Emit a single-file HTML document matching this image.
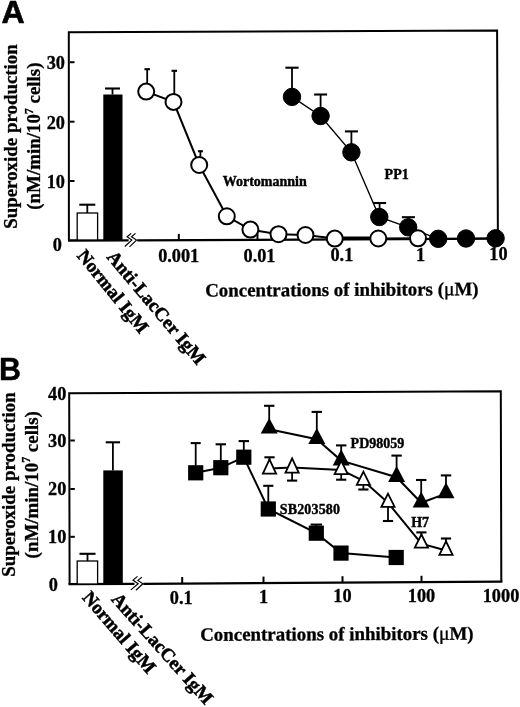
<!DOCTYPE html>
<html><head><meta charset="utf-8"><title>Figure</title>
<style>
html,body{margin:0;padding:0;background:#fff;overflow:hidden}
svg{display:block}
text{font-family:"Liberation Serif",serif;font-weight:bold;fill:#000;stroke:#000;stroke-width:0.3px}
.sans{font-family:"Liberation Sans",sans-serif;font-weight:bold;stroke-width:0.4px}
.L{font-size:18.9px}
.R{stroke-width:0.5px}
.t{font-size:18.3px}
.s{font-size:14px;stroke-width:0.4px}
.ln{stroke:#000;stroke-width:2;fill:none}
.eb{stroke:#000;stroke-width:1.8;fill:none}
.cap{stroke:#000;stroke-width:2.1;fill:none}
.ax{stroke:#000;stroke-width:2;fill:none}
.oc{fill:#fff;stroke:#000;stroke-width:2}
.fc{fill:#000;stroke:#000;stroke-width:1}
</style></head><body>
<svg width="520" height="707" viewBox="0 0 520 707" style="will-change:transform">
<rect x="0" y="0" width="520" height="707" fill="#fff"/>

<text class="sans" transform="translate(1.5,23) scale(1.05,1)" font-size="30.5" style="stroke-width:0.6px">A</text>
<text class="sans" x="-1.1" y="380.1" font-size="30.5">B</text>
<polyline class="ax" points="68.9,240.2 68.8,32.3 497.1,30.5 497.9,238.6"/>
<path class="ax" style="stroke-width:2.3" d="M68 240.5 L128.6 240.4 M137.2 240.4 L499 238.7"/>
<path d="M131.2 233.4 L127.1 236.8 L131.8 240.1 L124.8 246.5 M135.5 233.4 L131.5 236.8 L136.5 240.1 L129.5 246.9" stroke="#000" stroke-width="1.2" fill="none"/>
<line class="ax" x1="70" y1="62.2" x2="74.5" y2="62.2"/>
<line class="ax" x1="70" y1="121.7" x2="74.5" y2="121.7"/>
<line class="ax" x1="70" y1="181" x2="74.5" y2="181"/>
<line class="ax" x1="178.8" y1="239.9" x2="178.8" y2="233.9"/>
<line class="ax" x1="257.5" y1="239.6" x2="257.5" y2="233.6"/>
<line class="ax" x1="338" y1="239.3" x2="338" y2="233.3"/>
<line class="ax" x1="417.5" y1="239" x2="417.5" y2="233"/>
<text class="t" x="65" y="69" text-anchor="end" >30</text>
<text class="t" x="65" y="128.5" text-anchor="end" >20</text>
<text class="t" x="65" y="188.4" text-anchor="end" >10</text>
<text class="t" x="61.8" y="251" text-anchor="end" >0</text>
<text class="t" x="178.7" y="261.6" text-anchor="middle" >0.001</text>
<text class="t" x="259.5" y="261.6" text-anchor="middle" >0.01</text>
<text class="t" x="341.9" y="260.9" text-anchor="middle" >0.1</text>
<text class="t" x="420.6" y="260.5" text-anchor="middle" >1</text>
<text class="t" x="498.5" y="259.8" text-anchor="middle" >10</text>
<rect x="77.2" y="213" width="20.4" height="27" fill="#fff" stroke="#000" stroke-width="1.3"/>
<line class="eb" x1="87.3" y1="213" x2="87.3" y2="204.7"/>
<line class="cap" x1="79.3" y1="204.7" x2="95.3" y2="204.7"/>
<rect x="103.3" y="94.5" width="19.2" height="146.5" fill="#000"/>
<line class="eb" x1="112.5" y1="94.5" x2="112.5" y2="88.5"/>
<line class="cap" x1="105" y1="88.5" x2="120" y2="88.5"/>
<line class="eb" x1="147.2" y1="91.4" x2="147.2" y2="69.2"/>
<line class="cap" x1="144.45" y1="69.2" x2="149.95" y2="69.2"/>
<line class="eb" x1="174.3" y1="101.5" x2="174.3" y2="70.8"/>
<line class="cap" x1="171.55" y1="70.8" x2="177.05" y2="70.8"/>
<line class="eb" x1="200.4" y1="164" x2="200.4" y2="151.2"/>
<line class="cap" x1="197.9" y1="151.2" x2="202.9" y2="151.2"/>
<line class="eb" x1="292" y1="96.9" x2="292" y2="67.7"/>
<line class="cap" x1="285.4" y1="67.7" x2="298.6" y2="67.7"/>
<line class="eb" x1="320.6" y1="116" x2="320.6" y2="94.5"/>
<line class="cap" x1="314.1" y1="94.5" x2="327.1" y2="94.5"/>
<line class="eb" x1="351.4" y1="152.3" x2="351.4" y2="131.4"/>
<line class="cap" x1="344.9" y1="131.4" x2="357.9" y2="131.4"/>
<line class="eb" x1="379.6" y1="216" x2="379.6" y2="203"/>
<line class="cap" x1="373.1" y1="203" x2="386.1" y2="203"/>
<line class="eb" x1="408.4" y1="226.2" x2="408.4" y2="217.2"/>
<line class="cap" x1="401.9" y1="217.2" x2="414.9" y2="217.2"/>
<polyline style="stroke:#000;stroke-width:1.4;fill:none" points="292,96.9 320.6,116 351.4,152.3 379.3,217 408.2,227.3 438.2,238.8 466,238.5 495.6,238.3"/>
<polyline class="ln" points="146.2,91.6 173.5,101.9 199.2,165 226.8,216.3 250.4,229.6 278.5,234.2 305.5,235 334.8,238.6 378.3,238.5 418,238.3"/>
<line class="ln" x1="335" y1="237.5" x2="378" y2="237.4"/>
<circle class="fc" cx="292" cy="96.9" r="8.7"/>
<circle class="fc" cx="320.6" cy="116" r="8.7"/>
<circle class="fc" cx="351.4" cy="152.3" r="8.7"/>
<circle class="fc" cx="379.3" cy="217" r="8.7"/>
<circle class="fc" cx="408.2" cy="227.3" r="8.7"/>
<circle class="fc" cx="438.2" cy="238.8" r="8.7"/>
<circle class="fc" cx="466" cy="238.5" r="8.7"/>
<circle class="fc" cx="495.6" cy="238.3" r="8.7"/>
<circle class="oc" cx="146.2" cy="91.6" r="8"/>
<circle class="oc" cx="173.5" cy="101.9" r="8"/>
<circle class="oc" cx="199.2" cy="165" r="8"/>
<circle class="oc" cx="226.8" cy="216.3" r="8"/>
<circle class="oc" cx="250.4" cy="229.6" r="8"/>
<circle class="oc" cx="278.5" cy="234.2" r="8"/>
<circle class="oc" cx="305.5" cy="235" r="8"/>
<circle class="oc" cx="334.8" cy="238.6" r="8"/>
<circle class="oc" cx="378.3" cy="238.5" r="8"/>
<circle class="oc" cx="418" cy="238.3" r="8"/>
<text class="s" x="222.7" y="186.2" text-anchor="start" >Wortomannin</text>
<text class="s" x="384.6" y="178.5" text-anchor="start" >PP1</text>
<text class="L" x="205.2" y="296.6" text-anchor="start" transform="rotate(-0.3 205.2 296.6)">Concentrations of inhibitors (<tspan font-weight="normal" stroke-width="0.35" font-size="19.6">&#956;</tspan>M)</text>
<text class="L" transform="translate(17,136.5) rotate(-90)" text-anchor="middle">Superoxide production</text>
<text class="L" transform="translate(39.8,136.1) rotate(-90)" text-anchor="middle">(nM/min/10<tspan font-size="12" dy="-7.2">7</tspan><tspan dy="7.2"> cells)</tspan></text>
<text class="L R" transform="translate(76.3,255.9) rotate(51)">Normal IgM</text>
<text class="L R" transform="translate(106,257.3) rotate(50)">Anti-LacCer IgM</text>
<polyline class="ax" points="69.6,584.2 69.2,393.3 500.8,391.3 501.3,581.8"/>
<path class="ax" style="stroke-width:2.3" d="M68.5 584.1 L134.5 583.9 M143.3 583.8 L502.4 581.7"/>
<path d="M137.5 576.4 L133 580.1 L138.2 583.8 L130.8 589.9 M141.9 577.1 L137.9 580.4 L142.9 583.8 L135.9 590.2" stroke="#000" stroke-width="1.2" fill="none"/>
<line class="ax" x1="70.3" y1="440.5" x2="74.8" y2="440.5"/>
<line class="ax" x1="70.3" y1="489" x2="74.8" y2="489"/>
<line class="ax" x1="70.3" y1="536.8" x2="74.8" y2="536.8"/>
<line class="ax" x1="182.2" y1="583.5" x2="182.2" y2="577"/>
<line class="ax" x1="263.5" y1="583.1" x2="263.5" y2="576.6"/>
<line class="ax" x1="342.5" y1="582.7" x2="342.5" y2="576.2"/>
<line class="ax" x1="421.5" y1="582.3" x2="421.5" y2="575.8"/>
<text class="t" x="66.4" y="400" text-anchor="end" >40</text>
<text class="t" x="66.4" y="447.3" text-anchor="end" >30</text>
<text class="t" x="66.4" y="495.2" text-anchor="end" >20</text>
<text class="t" x="66.4" y="543.3" text-anchor="end" >10</text>
<text class="t" x="57.9" y="590.8" text-anchor="end" >0</text>
<text class="t" x="181.2" y="603.5" text-anchor="middle" >0.1</text>
<text class="t" x="263.5" y="603" text-anchor="middle" >1</text>
<text class="t" x="342.5" y="602.2" text-anchor="middle" >10</text>
<text class="t" x="421.5" y="601.8" text-anchor="middle" >100</text>
<text class="t" x="501" y="601.5" text-anchor="middle" >1000</text>
<rect x="77.2" y="561" width="20.4" height="23" fill="#fff" stroke="#000" stroke-width="1.3"/>
<line class="eb" x1="87.5" y1="561" x2="87.5" y2="553.8"/>
<line class="cap" x1="79.5" y1="553.8" x2="95.5" y2="553.8"/>
<rect x="103.3" y="470.4" width="19.5" height="114.6" fill="#000"/>
<line class="eb" x1="112.9" y1="470.6" x2="112.9" y2="442.3"/>
<line class="cap" x1="105.75" y1="442.3" x2="120.05" y2="442.3"/>
<line class="eb" x1="195.7" y1="472.8" x2="195.7" y2="443.1"/>
<line class="cap" x1="190.7" y1="443.1" x2="200.7" y2="443.1"/>
<line class="eb" x1="220.8" y1="467.7" x2="220.8" y2="444.3"/>
<line class="cap" x1="215.6" y1="444.3" x2="226" y2="444.3"/>
<line class="eb" x1="243.8" y1="457.2" x2="243.8" y2="441.1"/>
<line class="cap" x1="238.6" y1="441.1" x2="249" y2="441.1"/>
<line class="eb" x1="268.3" y1="509" x2="268.3" y2="485.8"/>
<line class="cap" x1="263.2" y1="485.8" x2="273.4" y2="485.8"/>
<line class="eb" x1="316.3" y1="533.2" x2="316.3" y2="524.6"/>
<line class="cap" x1="310.6" y1="524.6" x2="322" y2="524.6"/>
<line class="eb" x1="269.2" y1="424.2" x2="269.2" y2="405.8"/>
<line class="cap" x1="264" y1="405.8" x2="274.4" y2="405.8"/>
<line class="eb" x1="316.8" y1="434.2" x2="316.8" y2="411.9"/>
<line class="cap" x1="311.6" y1="411.9" x2="322" y2="411.9"/>
<line class="eb" x1="341.2" y1="455.6" x2="341.2" y2="445.4"/>
<line class="cap" x1="336" y1="445.4" x2="346.4" y2="445.4"/>
<line class="eb" x1="396.6" y1="472.2" x2="396.6" y2="455.6"/>
<line class="cap" x1="391.4" y1="455.6" x2="401.8" y2="455.6"/>
<line class="eb" x1="421.2" y1="497.8" x2="421.2" y2="480"/>
<line class="cap" x1="416" y1="480" x2="426.4" y2="480"/>
<line class="eb" x1="446" y1="488.6" x2="446" y2="475.4"/>
<line class="cap" x1="440.8" y1="475.4" x2="451.2" y2="475.4"/>
<line class="eb" x1="269.5" y1="463.2" x2="269.5" y2="457.3"/>
<line class="cap" x1="264.4" y1="457.3" x2="274.6" y2="457.3"/>
<line class="eb" x1="292.1" y1="470.5" x2="292.1" y2="480.6"/>
<line class="cap" x1="287" y1="480.6" x2="297.2" y2="480.6"/>
<line class="eb" x1="341.2" y1="472.1" x2="341.2" y2="479.7"/>
<line class="cap" x1="336.1" y1="479.7" x2="346.3" y2="479.7"/>
<line class="eb" x1="363.4" y1="482.8" x2="363.4" y2="489.5"/>
<line class="cap" x1="358.3" y1="489.5" x2="368.5" y2="489.5"/>
<line class="eb" x1="388" y1="504.7" x2="388" y2="521"/>
<line class="cap" x1="382.9" y1="521" x2="393.1" y2="521"/>
<line class="eb" x1="421.4" y1="538.3" x2="421.4" y2="532.4"/>
<line class="cap" x1="416.3" y1="532.4" x2="426.5" y2="532.4"/>
<line class="eb" x1="446" y1="545.2" x2="446" y2="538.5"/>
<line class="cap" x1="440.9" y1="538.5" x2="451.1" y2="538.5"/>
<polyline class="ln" points="195.7,472.8 220.8,467.7 243.8,457.2 268.3,509 316.3,533.2 341,553.1 396.2,557.5"/>
<polyline class="ln" points="269.2,429.2 316.8,439.2 341.2,460.6 396.6,477.2 421.2,502.8 446,493.6"/>
<polyline class="ln" points="269.5,468.5 292.1,467.4 341.2,469.9 363.4,480.8 388,502.8 421.4,543.6 446,550.5"/>
<rect x="188.1" y="465.2" width="15.2" height="15.2" fill="#000"/>
<rect x="213.2" y="460.1" width="15.2" height="15.2" fill="#000"/>
<rect x="236.2" y="449.6" width="15.2" height="15.2" fill="#000"/>
<rect x="260.7" y="501.4" width="15.2" height="15.2" fill="#000"/>
<rect x="308.7" y="525.6" width="15.2" height="15.2" fill="#000"/>
<rect x="333.4" y="545.5" width="15.2" height="15.2" fill="#000"/>
<rect x="388.6" y="549.9" width="15.2" height="15.2" fill="#000"/>
<polygon points="269.2,417.9 260.7,433.6 277.7,433.6" fill="#000"/>
<polygon points="316.8,427.9 308.3,444 325.3,444" fill="#000"/>
<polygon points="341.2,449.3 332.7,465.4 349.7,465.4" fill="#000"/>
<polygon points="396.6,465.9 388.1,481.9 405.1,481.9" fill="#000"/>
<polygon points="421.2,491.5 412.7,507.6 429.7,507.6" fill="#000"/>
<polygon points="446,482.3 437.5,498.2 454.5,498.2" fill="#000"/>
<polygon points="269.5,459.4 262.9,473.7 276.1,473.7" fill="#fff" stroke="#000" stroke-width="1.8"/>
<polygon points="292.1,458.3 285.5,472.6 298.7,472.6" fill="#fff" stroke="#000" stroke-width="1.8"/>
<polygon points="341.2,460.8 334.6,474.2 347.8,474.2" fill="#fff" stroke="#000" stroke-width="1.8"/>
<polygon points="363.4,471.7 356.8,484.9 370,484.9" fill="#fff" stroke="#000" stroke-width="1.8"/>
<polygon points="388,493.7 381.4,506.8 394.6,506.8" fill="#fff" stroke="#000" stroke-width="1.8"/>
<polygon points="421.4,534.5 414.8,547.6 428,547.6" fill="#fff" stroke="#000" stroke-width="1.8"/>
<polygon points="446,541.4 439.4,554.9 452.6,554.9" fill="#fff" stroke="#000" stroke-width="1.8"/>
<text class="s" x="350.6" y="448.3" text-anchor="start" >PD98059</text>
<text class="s" x="279.8" y="514.3" text-anchor="start" letter-spacing="0.15">SB203580</text>
<text class="s" x="411.2" y="526.6" text-anchor="start" >H7</text>
<text class="L" x="200.2" y="640.8" text-anchor="start" transform="rotate(-0.25 200.2 640.8)">Concentrations of inhibitors (<tspan font-weight="normal" stroke-width="0.35" font-size="19.6">&#956;</tspan>M)</text>
<text class="L" transform="translate(15.2,484.5) rotate(-90)" text-anchor="middle">Superoxide production</text>
<text class="L" transform="translate(37.5,484.8) rotate(-90)" text-anchor="middle">(nM/min/10<tspan font-size="12" dy="-7.2">7</tspan><tspan dy="7.2"> cells)</tspan></text>
<text class="L R" transform="translate(81.5,598) rotate(49.2)">Normal IgM</text>
<text class="L R" transform="translate(110.5,599.8) rotate(48.2)">Anti-LacCer IgM</text>
</svg></body></html>
